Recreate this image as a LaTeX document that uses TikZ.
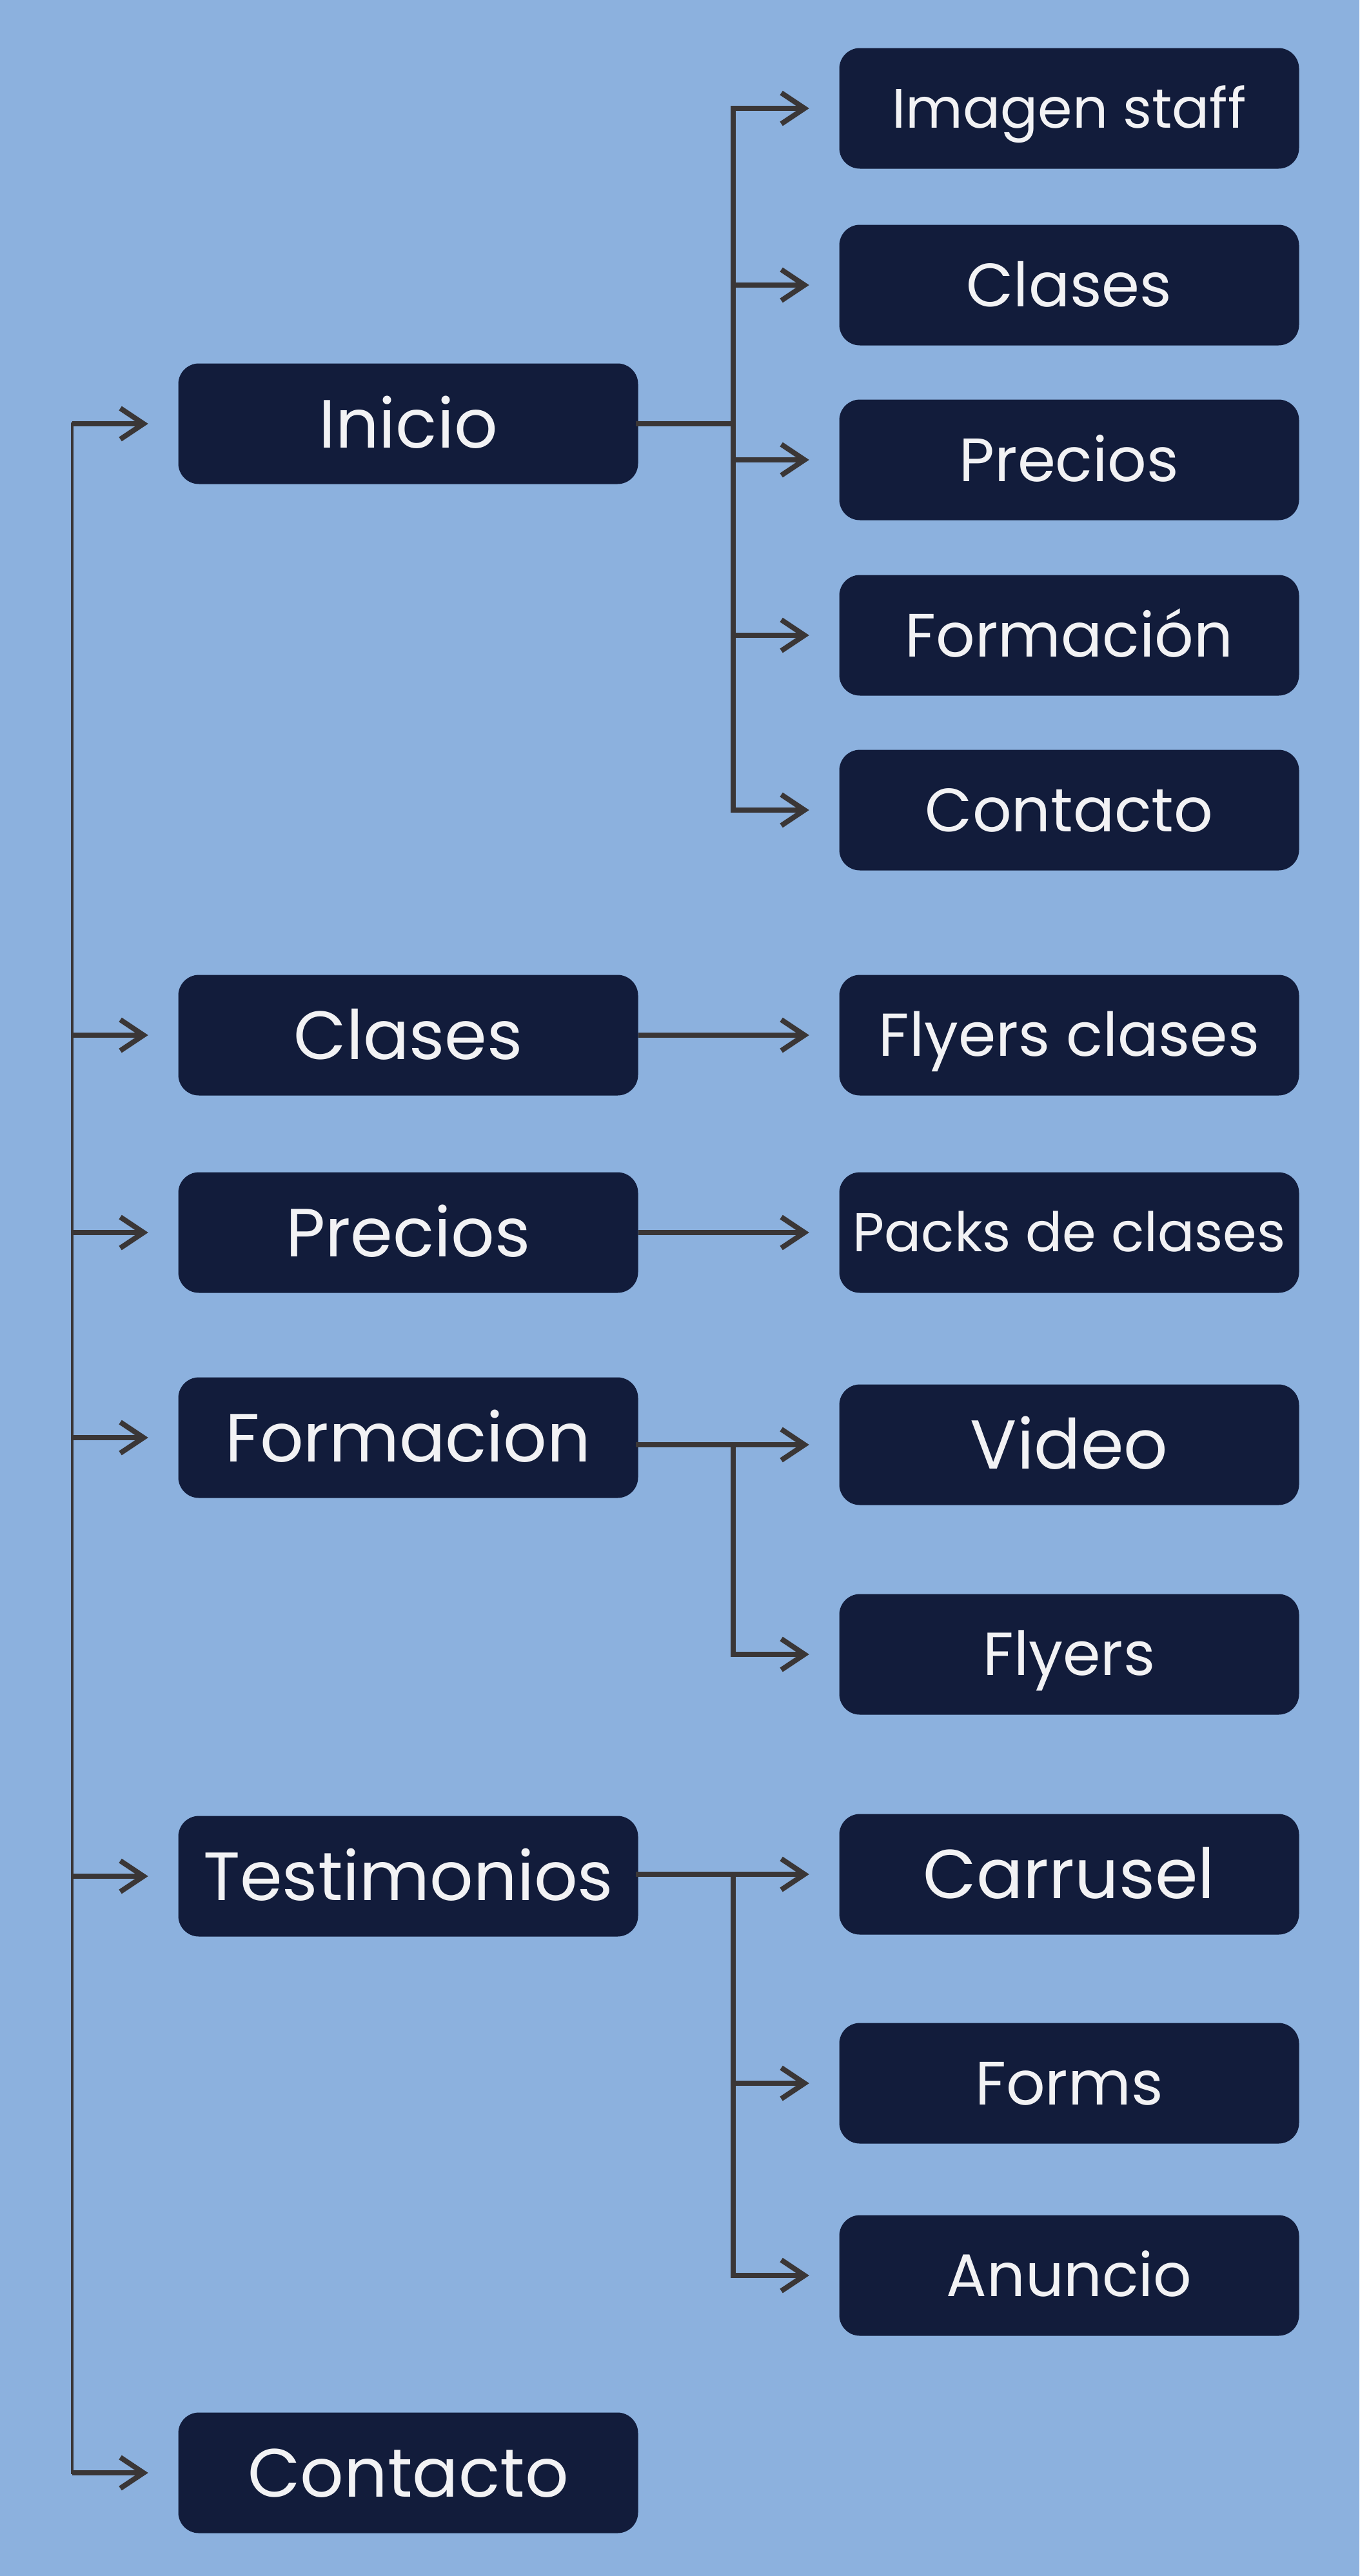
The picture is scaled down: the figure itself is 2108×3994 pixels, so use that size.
\documentclass[tikz,border=0pt]{standalone}
\usepackage{fontspec}
\setmainfont{Poppins}
\usetikzlibrary{arrows.meta}
\definecolor{bgblue}{HTML}{8CB1DE}
\definecolor{navy}{HTML}{121C3B}
\definecolor{linegray}{HTML}{3A3636}
\definecolor{textwhite}{HTML}{F2F2F4}
\tikzset{
  menu/.style={fill=navy, text=textwhite, rounded corners=3.2mm, inner sep=0pt,
    minimum width=71.3mm, minimum height=18.7mm, text depth=0pt},
  sz/.style={font=\fontsize{#1}{#1}\selectfont, text height={0.7*#1pt}},
  link/.style={draw=linegray, line width=0.8mm, -{Straight Barb[length=3.6mm,width=4.8mm]}, shorten >=4.6mm},
  branch/.style={draw=linegray, line width=0.8mm, line cap=rect},
  trunk/.style={draw=linegray, line width=0.35mm, line cap=rect}
}
\begin{document}
\begin{tikzpicture}[x=0.1mm,y=-0.1mm]
\fill[bgblue] (0,0) rectangle (2108,3994);
\useasboundingbox (0,0) rectangle (2108,3994);
% main pages
\node[menu,sz=30.1] (inicio) at (633,657) {Inicio};
\node[menu,sz=30.1] (clases) at (633,1605) {Clases};
\node[menu,sz=30.1] (precios) at (633,1911) {Precios};
\node[menu,sz=30.1] (formacion) at (633,2229) {Formacion};
\node[menu,sz=30.1] (testim) at (633,2909) {Testimonios};
\node[menu,sz=30.1] (contacto) at (633,3834) {Contacto};
% sections
\node[menu,sz=24.5] (staff) at (1658,168) {Imagen staff};
\node[menu,sz=27] (sclases) at (1658,442) {Clases};
\node[menu,sz=27] (sprecios) at (1658,713) {Precios};
\node[menu,sz=27] (sformacion) at (1658,985) {Formación};
\node[menu,sz=27] (scontacto) at (1658,1256) {Contacto};
\node[menu,sz=26.7] (flyerscl) at (1658,1605) {Flyers clases};
\node[menu,sz=24.1] (packs) at (1658,1911) {Packs de clases};
\node[menu,sz=30.5] (video) at (1658,2240) {Video};
\node[menu,sz=26.8] (flyers) at (1658,2565) {Flyers};
\node[menu,sz=30.5] (carrusel) at (1658,2906) {Carrusel};
\node[menu,sz=27] (forms) at (1658,3230) {Forms};
\node[menu,sz=26.5] (anuncio) at (1658,3528) {Anuncio};
% trunk and branches
\coordinate (t0) at (112,0);
\coordinate (b0) at (1137,0);
\draw[trunk] (t0 |- inicio) -- (t0 |- contacto);
\foreach \n in {inicio,clases,precios,formacion,testim,contacto}
  \draw[link] (t0 |- \n) -- (\n);
\draw[branch] (inicio) -- (b0 |- inicio);
\draw[branch] (b0 |- staff) -- (b0 |- scontacto);
\foreach \n in {staff,sclases,sprecios,sformacion,scontacto}
  \draw[link] (b0 |- \n) -- (\n);
\draw[link] (clases) -- (flyerscl);
\draw[link] (precios) -- (packs);
\draw[branch] (formacion.east |- video) -- (b0 |- video) -- (b0 |- flyers);
\foreach \n in {video,flyers}
  \draw[link] (b0 |- \n) -- (\n);
\draw[branch] (testim.east |- carrusel) -- (b0 |- carrusel) -- (b0 |- anuncio);
\foreach \n in {carrusel,forms,anuncio}
  \draw[link] (b0 |- \n) -- (\n);
\end{tikzpicture}
\end{document}
